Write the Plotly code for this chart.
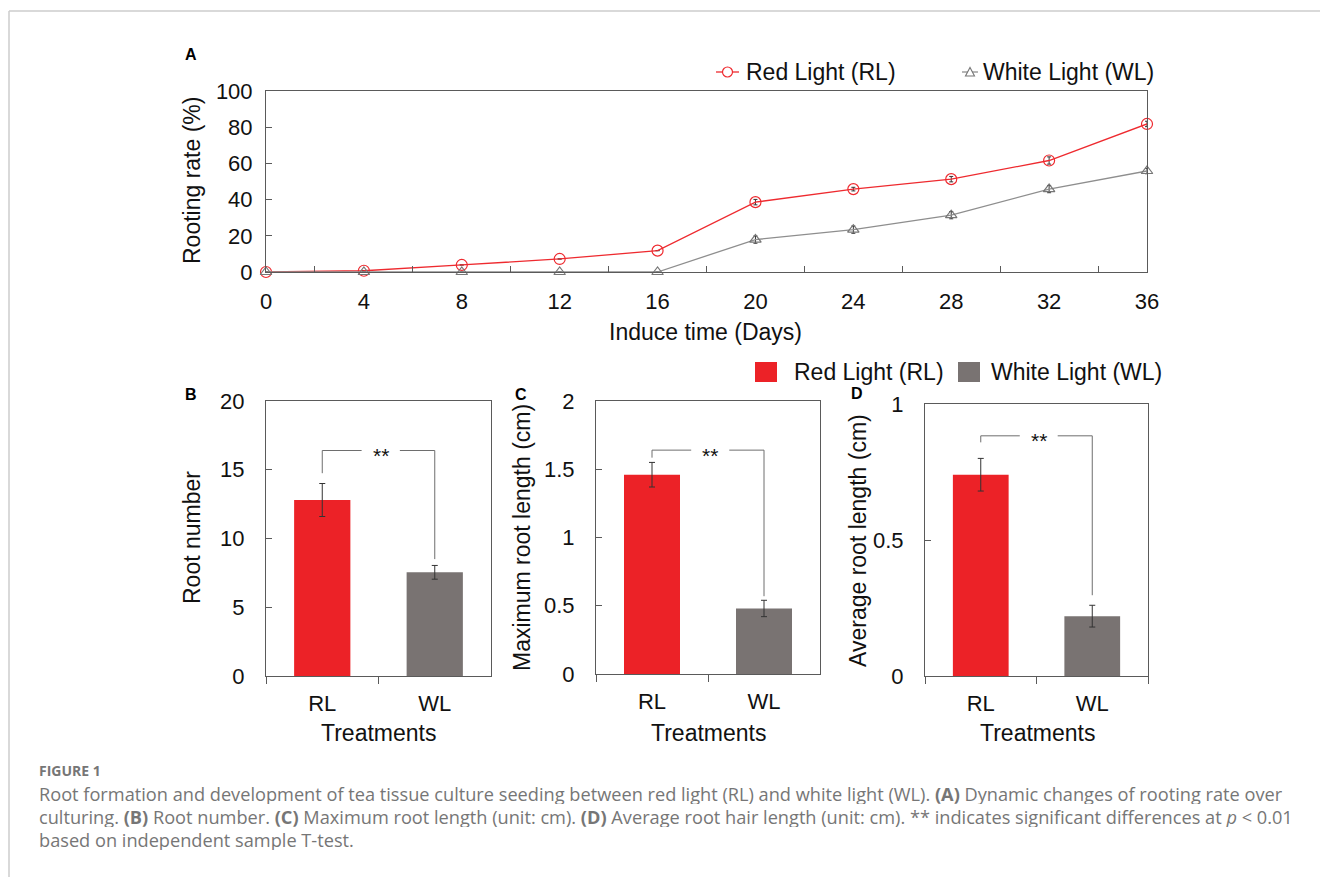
import plotly.graph_objects as go

W, H = 1320, 877

# ---------------- data ----------------
days = [0, 4, 8, 12, 16, 20, 24, 28, 32, 36]
rl_rate = [0, 0.7, 3.9, 7.2, 11.8, 38.6, 45.8, 51.3, 61.6, 81.8]
rl_err = [0, 0, 0, 0, 0, 1.5, 1.0, 1.5, 2.0, 1.5]
wl_rate = [0, 0, 0, 0, 0, 17.9, 23.4, 31.4, 45.8, 55.8]
wl_err = [0, 0, 0, 0, 0, 2.0, 2.0, 2.0, 2.0, 1.5]

treatments = ["RL", "WL"]
root_number = [12.8, 7.54]
root_number_err = [1.2, 0.5]
max_root_len = [1.46, 0.48]
max_root_len_err = [0.09, 0.06]
avg_root_len = [0.74, 0.22]
avg_root_len_err = [0.06, 0.04]

series_names = ["Red Light (RL)", "White Light (WL)"]

# ---------------- style ----------------
FONT = "Liberation Sans, Arial, sans-serif"
CAP_FONT = "Open Sans, Noto Sans, sans-serif"
RED_LINE = "#EE2A2F"
GREY_LINE = "#8E8E8E"
RED_BAR = "#EC2227"
GREY_BAR = "#797372"
AXIS = "#5A5A5A"
ERR = "#333333"


def px(x):
    return x / W


def py(y):
    return 1 - y / H


fig = go.Figure()

# ---------------- panel A ----------------
fig.add_trace(go.Scatter(
    x=days, y=rl_rate, name=series_names[0], mode="lines+markers",
    line=dict(color=RED_LINE, width=1.3),
    marker=dict(symbol="circle-open", size=11, color=RED_LINE, line=dict(width=1.2)),
    error_y=dict(type="data", array=rl_err, color=ERR, thickness=1, width=2),
    xaxis="x", yaxis="y", showlegend=False, cliponaxis=False))
fig.add_trace(go.Scatter(
    x=days, y=wl_rate, name=series_names[1], mode="lines+markers",
    line=dict(color=GREY_LINE, width=1.3),
    marker=dict(symbol="triangle-up-open", size=10, color="#777777", line=dict(width=1.2)),
    error_y=dict(type="data", array=wl_err, color=ERR, thickness=1, width=2),
    xaxis="x", yaxis="y", showlegend=False, cliponaxis=False))

# ---------------- bar panels ----------------
panels = [
    ("x2", "y2", root_number, root_number_err),
    ("x3", "y3", max_root_len, max_root_len_err),
    ("x4", "y4", avg_root_len, avg_root_len_err),
]
for xa, ya, vals, errs in panels:
    fig.add_trace(go.Bar(
        x=treatments, y=vals, xaxis=xa, yaxis=ya,
        marker=dict(color=[RED_BAR, GREY_BAR], line=dict(width=0)),
        error_y=dict(type="data", array=errs, color=ERR, thickness=1, width=3),
        showlegend=False))

tickfont = dict(family=FONT, size=22, color="#111111")

common_axis = dict(showline=True, linecolor=AXIS, linewidth=1, mirror=True,
                   showgrid=False, zeroline=False, tickfont=tickfont,
                   tickcolor=AXIS, automargin=False)

layout = dict(
    width=W, height=H, autosize=False,
    margin=dict(l=0, r=0, t=0, b=0, pad=0, autoexpand=False),
    paper_bgcolor="white", plot_bgcolor="white",
    bargap=0.5, showlegend=False,
    xaxis=dict(common_axis, domain=[px(266), px(1147)], range=[0, 36],
               tickmode="linear", tick0=0, dtick=4, ticks="", ticklabelstandoff=10,
               minor=dict(tickmode="linear", tick0=2, dtick=4, ticks="inside",
                          ticklen=6, tickcolor=AXIS),
               anchor="y"),
    yaxis=dict(common_axis, domain=[py(272), py(91)], range=[0, 100],
               tickmode="linear", tick0=0, dtick=20, ticks="inside", ticklen=6,
               ticklabelstandoff=8, anchor="x"),
)

bar_geom = [
    # xaxis, yaxis, left, right, top, bottom, ymax, dtick
    ("xaxis2", "yaxis2", "x2", "y2", 266, 491, 401, 676, 20, 5),
    ("xaxis3", "yaxis3", "x3", "y3", 596, 820, 401, 674, 2, 0.5),
    ("xaxis4", "yaxis4", "x4", "y4", 925, 1148, 404, 676, 1, 0.5),
]
for xk, yk, xa, ya, l, r, t, b, ymax, dt in bar_geom:
    layout[xk] = dict(common_axis, domain=[px(l), px(r)], type="category",
                      tickson="boundaries", ticks="outside", ticklen=7,
                      ticklabelstandoff=8, anchor=ya)
    layout[yk] = dict(common_axis, domain=[py(b), py(t)], range=[0, ymax],
                      tickmode="linear", tick0=0, dtick=dt, ticks="inside",
                      ticklen=6, ticklabelstandoff=16, anchor=xa)

fig.update_layout(**layout)

ann = []
shapes = []

# axis titles
title_font = dict(family=FONT, size=23, color="#111111")


def add_text(x, y, text, font, angle=0, xanchor="center", yanchor="middle", height=None):
    d = dict(x=px(x), y=py(y), xref="paper", yref="paper", text=text,
             showarrow=False, font=font, textangle=angle,
             xanchor=xanchor, yanchor=yanchor)
    if height is not None:
        d["height"] = height
        d["borderpad"] = 0
    ann.append(d)


add_text(706, 332, "Induce time (Days)", title_font)
add_text(192, 181, "Rooting rate (%)", title_font, angle=-90)
add_text(192, 538, "Root number", title_font, angle=-90)
add_text(522, 538, "Maximum root length (cm)", title_font, angle=-90)
add_text(858, 541, "Average root length (cm)", title_font, angle=-90)
for cx in (378, 708, 1037):
    add_text(cx, 733, "Treatments", title_font)

# panel letters
lab_font = dict(family=FONT, size=16, color="#000000")
add_text(191, 54, "<b>A</b>", lab_font)
add_text(191, 395, "<b>B</b>", lab_font)
add_text(521, 395, "<b>C</b>", lab_font)
add_text(857, 393, "<b>D</b>", lab_font)

# significance brackets (data coordinates)
brackets = [
    ("x2", "y2", 16.4, 14.75, 8.5),
    ("x3", "y3", 1.64, 1.585, 0.57),
    ("x4", "y4", 0.883, 0.859, 0.297),
]
BR = "#6E6E6E"
for xa, ya, top, lb, rb in brackets:
    for (x0, y0, x1, y1) in [(0, lb, 0, top), (0, top, 0.35, top),
                             (0.69, top, 1, top), (1, top, 1, rb)]:
        shapes.append(dict(type="line", xref=xa, yref=ya, x0=x0, y0=y0,
                           x1=x1, y1=y1, line=dict(color=BR, width=1)))
    ann.append(dict(x=0.52, y=top, xref=xa, yref=ya, text="**", showarrow=False,
                    font=dict(family=FONT, size=21, color="#111111"),
                    xanchor="center", yanchor="middle", yshift=-5))

# legend for panel A
leg_font = dict(family=FONT, size=23, color="#111111")
shapes.append(dict(type="line", xref="paper", yref="paper", x0=px(716), x1=px(739),
                   y0=py(72), y1=py(72), line=dict(color=RED_LINE, width=1.3)))
shapes.append(dict(type="circle", xref="paper", yref="paper",
                   x0=px(722.5), x1=px(732.5), y0=py(67), y1=py(77),
                   line=dict(color=RED_LINE, width=1.2), fillcolor="white"))
add_text(744, 72, series_names[0], leg_font, xanchor="left")
shapes.append(dict(type="line", xref="paper", yref="paper", x0=px(962), x1=px(978),
                   y0=py(72), y1=py(72), line=dict(color=GREY_LINE, width=1.3)))
tri = "M {:.5f},{:.5f} L {:.5f},{:.5f} L {:.5f},{:.5f} Z".format(
    px(965.5), py(76), px(974.5), py(76), px(970), py(67.5))
shapes.append(dict(type="path", xref="paper", yref="paper", path=tri,
                   line=dict(color="#777777", width=1.1), fillcolor="white"))
add_text(981, 72, series_names[1], leg_font, xanchor="left")

# legend for bar panels
shapes.append(dict(type="rect", xref="paper", yref="paper", x0=px(755), x1=px(777),
                   y0=py(382), y1=py(362), fillcolor=RED_BAR, line=dict(width=0)))
add_text(792, 372, series_names[0], leg_font, xanchor="left")
shapes.append(dict(type="rect", xref="paper", yref="paper", x0=px(958), x1=px(980),
                   y0=py(382), y1=py(362), fillcolor=GREY_BAR, line=dict(width=0)))
add_text(989, 372, series_names[1], leg_font, xanchor="left")

# page frame
shapes.append(dict(type="line", xref="paper", yref="paper", x0=px(9), x1=1,
                   y0=py(11), y1=py(11), line=dict(color="#CCCCCC", width=1.5)))
shapes.append(dict(type="line", xref="paper", yref="paper", x0=px(9), x1=px(9),
                   y0=py(11), y1=0, line=dict(color="#CCCCCC", width=1.5)))

# caption
cap_col = "#767676"
add_text(38, 770, "<b>FIGURE 1</b>", dict(family=CAP_FONT, size=14, color=cap_col),
         xanchor="left", height=18)
cap_lines = [
    "Root formation and development of tea tissue culture seeding between red light (RL) and white light (WL). <b>(A)</b> Dynamic changes of rooting rate over",
    "culturing. <b>(B)</b> Root number. <b>(C)</b> Maximum root length (unit: cm). <b>(D)</b> Average root hair length (unit: cm). ** indicates significant differences at <i>p</i> &lt; 0.01",
    "based on independent sample T-test.",
]
for i, line in enumerate(cap_lines):
    add_text(38, 793 + i * 23.2, line, dict(family=CAP_FONT, size=18.2, color=cap_col),
             xanchor="left", height=21)

fig.update_layout(annotations=ann, shapes=shapes)

fig.write_html(
    "out.html",
    config={"displayModeBar": False},
    post_script="document.body.style.margin='0px';document.body.style.padding='0px';"
                "document.documentElement.style.overflow='hidden';")
